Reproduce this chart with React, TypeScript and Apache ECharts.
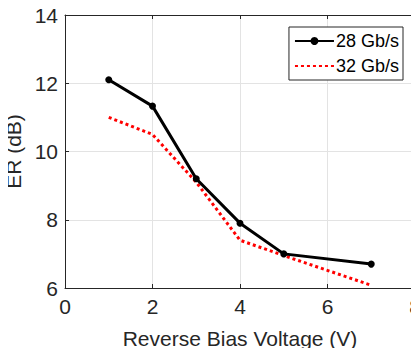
import React, { useEffect, useRef } from "react";
import * as echarts from "echarts";

const voltages = [1, 2, 3, 4, 5, 7];
const er28 = [12.1, 11.33, 9.2, 7.9, 7.0, 6.7];
const er32 = [11.0, 10.5, 9.1, 7.4, 6.95, 6.08];
const seriesNames = ["28 Gb/s", "32 Gb/s"];

export default function App() {
  const ref = useRef<HTMLDivElement>(null);
  useEffect(() => {
    if (!ref.current) return;
    const chart = echarts.init(ref.current, null, { renderer: "svg" });
    const font = "'Liberation Sans', Arial, Helvetica, sans-serif";
    const axisColor = "#262626";
    const common = {
      axisLine: { show: true, onZero: false, lineStyle: { color: axisColor, width: 1 } },
      axisTick: { show: true, inside: true, length: 4, lineStyle: { color: axisColor } },
    };
    chart.setOption({
      animation: false,
      textStyle: { fontFamily: font },
      grid: { left: 65, right: 4, top: 15, bottom: 68, containLabel: false, outerBoundsMode: "none" },
      legend: {
        right: 16,
        top: 27,
        orient: "vertical",
        backgroundColor: "#fff",
        borderColor: "#262626",
        borderWidth: 1,
        borderRadius: 0,
        padding: [5, 4, 5, 5],
        itemGap: 7,
        itemWidth: 39,
        itemHeight: 10,
        textStyle: { fontFamily: font, fontSize: 18, color: "#000", padding: [0, 0, 0, -3] },
        data: [
          { name: seriesNames[0] },
          { name: seriesNames[1], itemStyle: { opacity: 0 } },
        ],
      },
      xAxis: [
        {
          type: "value",
          min: 0,
          max: 8,
          interval: 2,
          name: "Reverse Bias Voltage (V)",
          nameLocation: "middle",
          nameGap: 40,
          nameTextStyle: { fontFamily: font, fontSize: 21, color: axisColor },
          axisLabel: { fontFamily: font, fontSize: 21, color: axisColor, margin: 8 },
          splitLine: { show: true, lineStyle: { color: "#e3e3e3", width: 1 } },
          ...common,
        },
        {
          type: "value",
          position: "top",
          min: 0,
          max: 8,
          interval: 2,
          axisLabel: { show: false },
          splitLine: { show: false },
          ...common,
        },
      ],
      yAxis: [
        {
          type: "value",
          min: 6,
          max: 14,
          interval: 2,
          name: "ER (dB)",
          nameLocation: "middle",
          nameGap: 27,
          nameRotate: 90,
          nameTextStyle: { fontFamily: font, fontSize: 21, color: axisColor },
          axisLabel: { fontFamily: font, fontSize: 21, color: axisColor, margin: 7 },
          splitLine: { show: true, lineStyle: { color: "#e3e3e3", width: 1 } },
          ...common,
        },
        {
          type: "value",
          position: "right",
          min: 6,
          max: 14,
          interval: 2,
          axisLabel: { show: false },
          splitLine: { show: false },
          ...common,
        },
      ],
      series: [
        {
          name: seriesNames[0],
          type: "line",
          data: voltages.map((v, i) => [v, er28[i]]),
          symbol: "circle",
          symbolSize: 7,
          itemStyle: { color: "#000" },
          lineStyle: { color: "#000", width: 3 },
          z: 3,
        },
        {
          name: seriesNames[1],
          type: "line",
          data: voltages.map((v, i) => [v, er32[i]]),
          showSymbol: false,
          symbol: "none",
          itemStyle: { color: "#ff0000" },
          lineStyle: { color: "#ff0000", width: 3, type: [3, 3] },
          z: 2,
        },
      ],
    });
    return () => chart.dispose();
  }, []);
  return <div ref={ref} style={{ width: 419, height: 356, margin: -8 }} />;
}
